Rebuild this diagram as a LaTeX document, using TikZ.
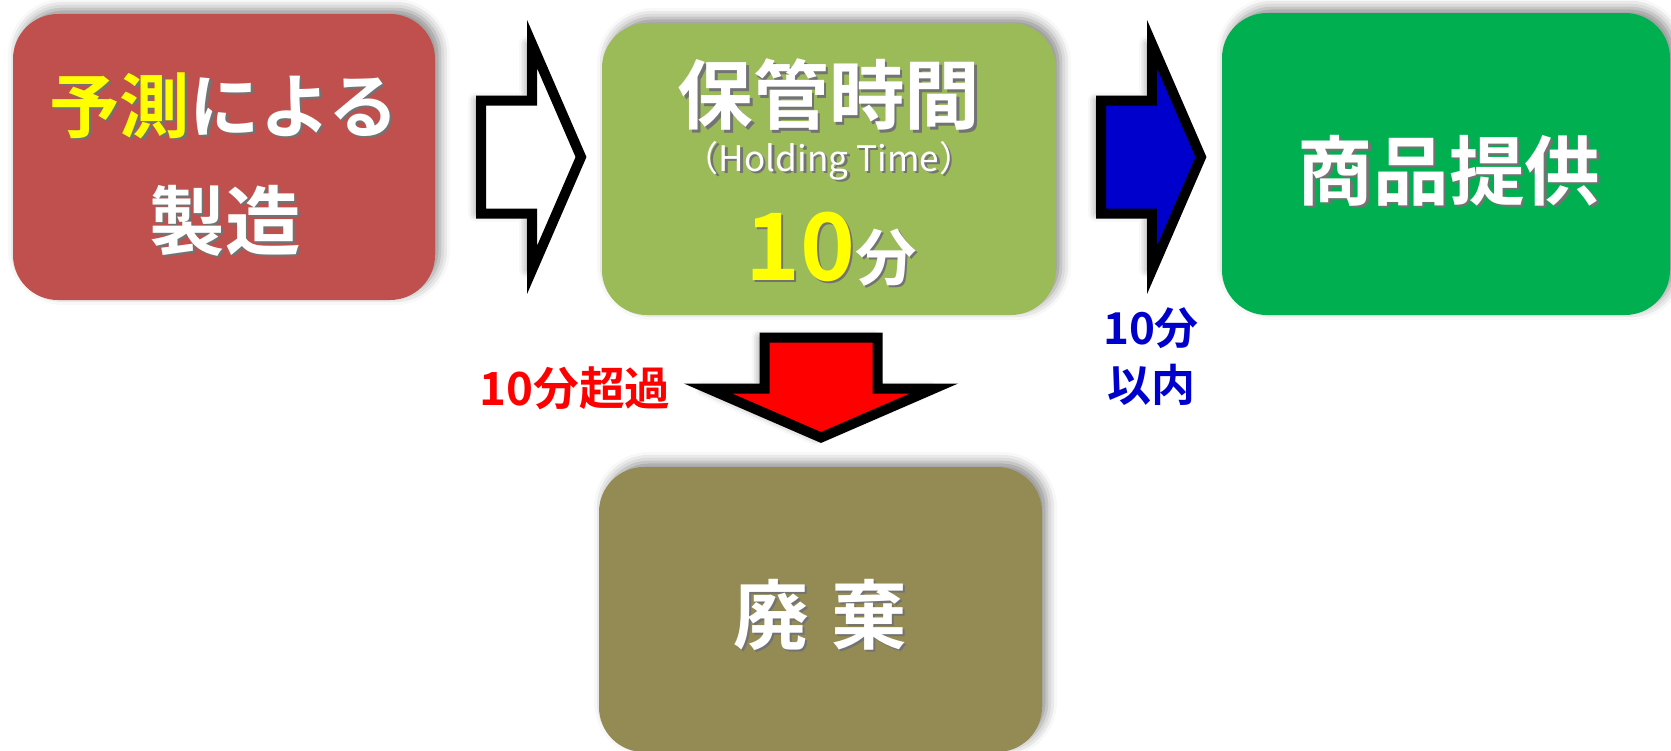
\documentclass[tikz,border=0pt]{standalone}
\usepackage{fontspec}
\setmainfont{Noto Sans CJK JP}[BoldFont={Noto Sans CJK JP Bold}]
\usetikzlibrary{shadows,shadows.blur}

\definecolor{makered}{HTML}{C0504D}
\definecolor{holdgreen}{HTML}{9BBB59}
\definecolor{servegreen}{HTML}{00B050}
\definecolor{wasteolive}{HTML}{948A54}
\definecolor{okblue}{HTML}{0000CC}
\definecolor{overred}{HTML}{FF0000}
\definecolor{hiyellow}{HTML}{FFFF00}

\newcommand{\shtxt}[2]{\makebox[0pt][l]{\hspace{0.025cm}\raisebox{-0.025cm}{\color{black!55}#2}}{\color{#1}#2}}

\tikzset{
    box/.style={rectangle, rounded corners=0.45cm, inner sep=0pt, outer sep=0pt,
        blur shadow={shadow xshift=0.05cm, shadow yshift=0.05cm, shadow blur radius=0.1cm, shadow opacity=45}},
    boxtext/.style={font=\bfseries\fontsize{21.5}{24}\selectfont, inner sep=0pt},
    arrowline/.style={draw=black, line width=0.1cm, line join=miter,
        blur shadow={shadow xshift=-0.05cm, shadow yshift=0cm, shadow blur radius=0.08cm, shadow opacity=45}},
    pics/blockarrow/.style={code={
        \draw[arrowline, #1] (-0.50,0.565) -- (0.01,0.565) -- (0.01,1.13) -- (0.50,0)
            -- (0.01,-1.13) -- (0.01,-0.565) -- (-0.50,-0.565) -- cycle;
    }},
}

\begin{document}
\begin{tikzpicture}
            \useasboundingbox (0,0) rectangle (16.71,-7.5);
            \node[box, fill=makered, minimum width=4.22cm, minimum height=2.86cm] (make) at (2.24,-1.57) {};
            \node[box, fill=holdgreen, minimum width=4.54cm, minimum height=2.92cm] (hold) at (8.29,-1.69) {};
            \node[box, fill=servegreen, minimum width=4.48cm, minimum height=3.02cm] (serve) at (14.46,-1.64) {};
            \node[box, fill=wasteolive, minimum width=4.43cm, minimum height=2.85cm] (waste) at (8.205,-6.095) {};
            \node[boxtext, font=\bfseries\fontsize{20}{24}\selectfont] (maketop) at (2.24,-1.07) {\shtxt{hiyellow}{予測}\shtxt{white}{による}};
            \node[boxtext] (makebottom) at (2.25,-2.22) {\shtxt{white}{製造}};
            \node[boxtext] (holdtitle) at (8.29,-0.96) {\shtxt{white}{保管時間}};
            \node[inner sep=0pt, font=\fontsize{10}{12}\selectfont] (holdsub) at (8.29,-1.62) {\shtxt{white}{（Holding Time）}};
            \node[boxtext, anchor=base] (holdtime) at (8.31,-2.80) {\shtxt{hiyellow}{\fontsize{26.5}{30}\selectfont 10}\shtxt{white}{\fontsize{17.5}{20}\selectfont 分}};
            \node[boxtext] (servetext) at (14.49,-1.72) {\shtxt{white}{商品提供}};
            \node[boxtext] (wastetext) at (8.20,-6.16) {\shtxt{white}{廃}\hspace{0.3em}\shtxt{white}{棄}};
            \pic at (5.31,-1.57) {blockarrow={fill=white}};
            \pic at (11.51,-1.57) {blockarrow={fill=okblue}};
            \pic[rotate=-90] at (8.21,-3.875) {blockarrow={fill=overred}};
            \node[inner sep=0pt, text=overred, font=\bfseries\fontsize{13}{16}\selectfont] (overlabel) at (5.75,-3.88) {10分超過};
            \node[inner sep=0pt, text=okblue, align=center, font=\bfseries\fontsize{12.5}{16.2}\selectfont] (withinlabel) at (11.51,-3.565) {10分\\以内};
        \end{tikzpicture}
\end{document}
